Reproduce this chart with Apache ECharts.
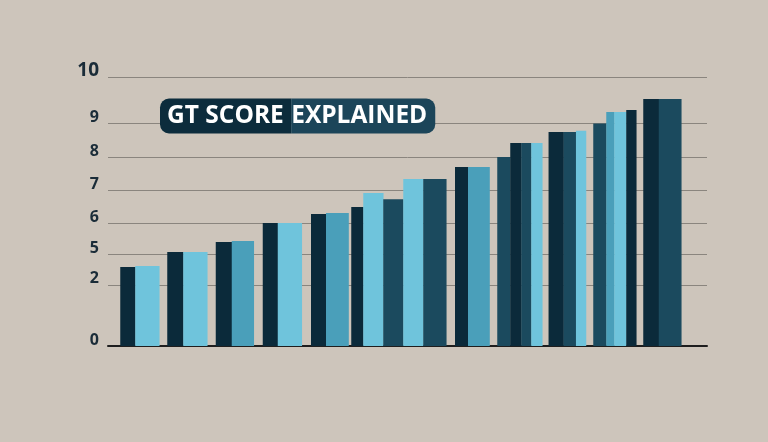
<!DOCTYPE html>
<html><head><meta charset="utf-8">
<script src="https://cdn.jsdelivr.net/npm/echarts@6/dist/echarts.min.js"></script>
<style>html,body{margin:0;padding:0;background:#cdc5bb;}#c{width:768px;height:442px;}</style>
</head><body><div id="c"></div>
<script>
// ---- data ----
const categories = ['1','2','3','4','5','6','7','8','9','10','11','12'];
const barValues = [
  [2.94, 2.97],
  [3.49, 3.49],
  [3.87, 3.90],
  [4.57, 4.57],
  [4.91, 4.94],
  [5.17, 5.69, 5.46],
  [6.21, 6.21],
  [6.65, 6.65],
  [7.03, 7.55, 7.55, 7.55],
  [7.96, 7.96, 8.00],
  [8.27, 8.70, 8.70, 8.77],
  [9.18, 9.18]
];
const tickPositions = [0, 2.27, 3.42, 4.57, 5.80, 7.01, 8.27, 10];
const tickLabels = ['0', '2', '5', '6', '7', '8', '9', '10'];
const titleLeft = 'GT SCORE ';
const titleRight = 'EXPLAINED';

// ---- style ----
const palette = { navy: '#0b2a3a', sky: '#6fc4dc', teal: '#4a9fba', slate: '#1b4a5e' };
const segTones = [
  ['navy','sky'], ['navy','sky'], ['navy','teal'], ['navy','sky'], ['navy','teal'],
  ['navy','sky','slate'], ['sky','slate'], ['navy','teal'],
  ['slate','navy','slate','sky'], ['navy','slate','sky'],
  ['slate','teal','sky','navy'], ['navy','slate']
];
const segWidths = [
  [15,24], [16,24], [16,22], [15,24], [15,22.5],
  [12,20,20], [20,23], [13,21.5],
  [13,11,10,11], [15,12.4,10],
  [13,8,12,10], [15.5,22.5]
];

const items = [];
barValues.forEach((vals, g) => vals.forEach((v, s) => items.push([g, v, s])));

const labelColor = '#1a2c38';
const chart = echarts.init(document.getElementById('c'));
chart.setOption({
  backgroundColor: '#cdc5bb',
  animation: false,
  title: {
    left: 160, top: 104, padding: 0,
    text: '{a|' + titleLeft + '}{b|' + titleRight + '}',
    textStyle: {
      rich: {
        a: { color: '#ffffff', fontSize: 24.5, fontWeight: 'bold', fontFamily: 'Open Sans',
             backgroundColor: '#0c2c3c', padding: [5, 1, 5, 7], borderRadius: [9, 0, 0, 9], lineHeight: 24 },
        b: { color: '#ffffff', fontSize: 24.5, fontWeight: 'bold', fontFamily: 'Open Sans',
             backgroundColor: '#1c4559', padding: [5, 8, 5, 0], borderRadius: [0, 9, 9, 0], lineHeight: 24 }
      }
    }
  },
  grid: [
    { left: 108, right: 61, top: 77, bottom: 96 },
    { left: 116, right: 82, top: 77, bottom: 96 }
  ],
  xAxis: [
    { gridIndex: 0, type: 'value', min: 0, max: 1,
      axisLine: { show: true, onZero: false, lineStyle: { color: '#1e1e1e', width: 2 } },
      axisTick: { show: false }, axisLabel: { show: false }, splitLine: { show: false } },
    { gridIndex: 1, type: 'category', data: categories, show: false }
  ],
  yAxis: [
    { gridIndex: 0, type: 'value', min: 0, max: 10,
      axisLine: { show: false },
      axisTick: { show: false, customValues: tickPositions },
      axisLabel: {
        customValues: tickPositions,
        formatter: function (val) {
          let best = 0;
          tickPositions.forEach((p, i) => { if (Math.abs(p - val) < Math.abs(tickPositions[best] - val)) best = i; });
          const t = tickLabels[best];
          return t.length > 1 ? '{big|' + t + '}' : t;
        },
        color: labelColor, fontWeight: 'bold', fontSize: 16, fontFamily: 'Open Sans',
        margin: 9, verticalAlign: 'middle', padding: [0, 0, 12, 0],
        rich: { big: { color: labelColor, fontWeight: 'bold', fontSize: 19, fontFamily: 'Open Sans' } }
      },
      splitLine: { show: true, lineStyle: { color: '#8a857e', width: 1 } } },
    { gridIndex: 1, type: 'value', min: 0, max: 10, show: false }
  ],
  series: [{
    type: 'custom',
    xAxisIndex: 1, yAxisIndex: 1,
    data: items,
    encode: { x: 0, y: 1 },
    renderItem: function (params, api) {
      const g = api.value(0), v = api.value(1), s = api.value(2);
      const base = api.coord([g, 0]);
      const top = api.coord([g, v]);
      const ws = segWidths[g];
      const total = ws.reduce((a, b) => a + b, 0);
      let x = base[0] - total / 2;
      for (let k = 0; k < s; k++) x += ws[k];
      return {
        type: 'rect',
        shape: { x: x, y: top[1], width: ws[s] + 0.3, height: base[1] - top[1] },
        style: { fill: palette[segTones[g][s]] }
      };
    }
  }]
});
</script></body></html>
